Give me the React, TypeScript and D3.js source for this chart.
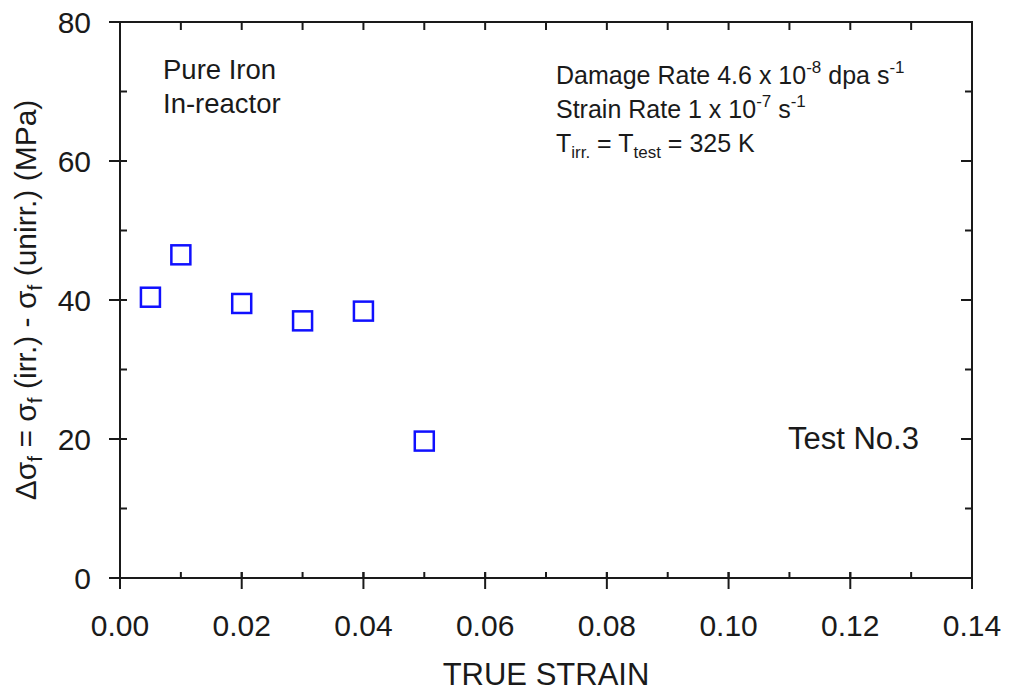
import React from 'react';
import * as d3 from 'd3';

// data
const strain = [0.005, 0.01, 0.02, 0.03, 0.04, 0.05];
const deltaSigma = [40.4, 46.5, 39.5, 37.0, 38.4, 19.7];
const xTicks = [0, 0.02, 0.04, 0.06, 0.08, 0.1, 0.12, 0.14];
const yTicks = [0, 20, 40, 60, 80];

const W = 1010;
const H = 693;
const m = { left: 120, right: 972, top: 22, bottom: 578 };
const font = '"Liberation Sans", Arial, sans-serif';
const ink = '#1a1a1a';

export default function App() {
  const x = d3.scaleLinear().domain([0, 0.14]).range([m.left, m.right]);
  const y = d3.scaleLinear().domain([0, 80]).range([m.bottom, m.top]);
  const xMinor = d3.range(0, 0.1401, 0.01);
  const yMinor = d3.range(0, 80.1, 10);
  const sq = 19;

  return (
    <svg width={W} height={H} style={{ position: 'absolute', left: 0, top: 0, background: '#fff' }}
      fontFamily={font} fill={ink}>
      {/* frame */}
      <rect x={m.left} y={m.top} width={m.right - m.left} height={m.bottom - m.top}
        fill="none" stroke={ink} strokeWidth={2} />

      {/* x ticks: minor inward on bottom & top */}
      {xMinor.map((v, i) => (
        <g key={'xm' + i}>
          <line x1={x(v)} x2={x(v)} y1={m.bottom} y2={m.bottom - 6} stroke={ink} strokeWidth={2} />
          <line x1={x(v)} x2={x(v)} y1={m.top} y2={m.top + 8} stroke={ink} strokeWidth={2} />
        </g>
      ))}
      {xTicks.map((v, i) => (
        <g key={'xt' + i}>
          <line x1={x(v)} x2={x(v)} y1={m.bottom - 6} y2={m.bottom + 11} stroke={ink} strokeWidth={2} />
          <text x={x(v)} y={636} textAnchor="middle" fontSize={30}>{d3.format('.2f')(v)}</text>
        </g>
      ))}

      {/* y ticks */}
      {yMinor.map((v, i) => (
        <g key={'ym' + i}>
          <line x1={m.left} x2={m.left + 7} y1={y(v)} y2={y(v)} stroke={ink} strokeWidth={2} />
          <line x1={m.right} x2={m.right - (v % 20 === 0 ? 11 : 7)} y1={y(v)} y2={y(v)} stroke={ink} strokeWidth={2} />
        </g>
      ))}
      {yTicks.map((v, i) => (
        <g key={'yt' + i}>
          <line x1={m.left - 11} x2={m.left + 6} y1={y(v)} y2={y(v)} stroke={ink} strokeWidth={2} />
          <text x={91} y={y(v) + 11} textAnchor="end" fontSize={30}>{v}</text>
        </g>
      ))}

      {/* axis titles */}
      <text x={546} y={685} textAnchor="middle" fontSize={31}>TRUE STRAIN</text>
      <text transform={`translate(36,300) rotate(-90)`} textAnchor="middle" fontSize={30}>
        Δσ<tspan fontSize={21} dy={6}>f</tspan>
        <tspan dy={-6}> = σ</tspan><tspan fontSize={21} dy={6}>f</tspan>
        <tspan dy={-6}> (irr.) - σ</tspan><tspan fontSize={21} dy={6}>f</tspan>
        <tspan dy={-6}> (unirr.) (MPa)</tspan>
      </text>

      {/* annotations */}
      <text x={163} y={79} fontSize={27.5}>Pure Iron</text>
      <text x={163} y={113} fontSize={27.5}>In-reactor</text>

      <text x={556} y={84} fontSize={25}>
        Damage Rate 4.6 x 10<tspan fontSize={17} dy={-11}>-8</tspan>
        <tspan dy={11}> dpa s</tspan><tspan fontSize={17} dy={-11}>-1</tspan>
      </text>
      <text x={556} y={118} fontSize={25}>
        Strain Rate 1 x 10<tspan fontSize={17} dy={-11}>-7</tspan>
        <tspan dy={11}> s</tspan><tspan fontSize={17} dy={-11}>-1</tspan>
      </text>
      <text x={556} y={152} fontSize={25}>
        T<tspan fontSize={17} dy={6}>irr.</tspan>
        <tspan dy={-6}> = T</tspan><tspan fontSize={17} dy={6}>test</tspan>
        <tspan dy={-6}> = 325 K</tspan>
      </text>

      <text x={788} y={449} fontSize={31}>Test No.3</text>

      {/* data */}
      {strain.map((s, i) => (
        <rect key={'p' + i} x={x(s) - sq / 2} y={y(deltaSigma[i]) - sq / 2} width={sq} height={sq}
          fill="none" stroke="#1010ff" strokeWidth={2.5} />
      ))}
    </svg>
  );
}
